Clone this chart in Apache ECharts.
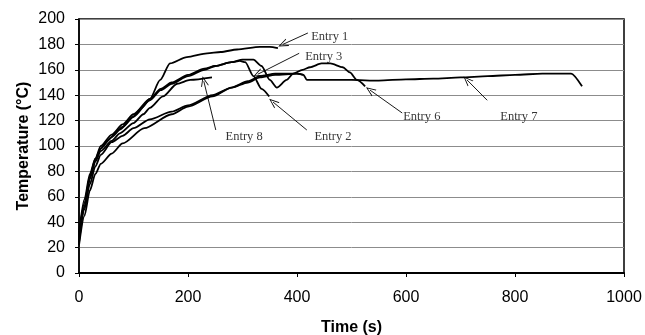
<!DOCTYPE html>
<html><head><meta charset="utf-8">
<script src="https://cdn.jsdelivr.net/npm/echarts@6/dist/echarts.min.js"></script>
<style>html,body{margin:0;padding:0;background:#fff}#c{width:645px;height:335px}</style>
</head><body><div id="c"></div>
<script>
// Time (s), Temperature (°C)
const entry1 = [[0,32],[10,58],[20,78],[30,90],[40,98],[51,104],[75,113],[99,123],[115,130],[130,137],[149,152],[167,165],[198,170],[235,173],[260,174],[290,176],[332,178],[350,178],[365,177]];
const entry2 = [[0,24],[10,50],[20,74],[30,88],[40,98],[60,107],[80,115],[100,123],[130,136],[150,144],[170,149],[200,155],[230,160],[250,163],[280,166],[295,167],[305,166],[320,155],[335,145],[349,139]];
const entry3 = [[0,28],[10,52],[20,70],[30,84],[40,93],[60,103],[80,108],[100,114],[130,121],[170,127],[200,132],[245,140],[280,146],[310,151],[332,155],[360,157],[400,157],[412,156]];
const entry6 = [[0,26],[10,52],[20,76],[30,90],[40,100],[60,109],[80,117],[100,125],[130,137],[150,145],[170,150],[200,156],[230,161],[250,163],[280,166],[300,168],[320,168],[335,163],[350,152],[363,146],[381,152],[393,157],[410,160],[424,162],[445,165],[461,165],[484,162],[497,158],[510,152],[525,147]];
const entry7 = [[0,22],[10,45],[20,65],[30,78],[40,86],[60,94],[80,102],[120,114],[170,125],[200,131],[245,139],[280,146],[310,150],[332,154],[360,156],[400,157],[412,156],[418,152],[500,152],[550,151.5],[600,152.5],[650,153],[700,154],[750,155],[800,156],[850,157],[880,157],[903,157],[923,147]];
const entry8 = [[0,30],[10,55],[20,76],[30,88],[40,96],[60,104],[75,110],[100,118],[118,125],[130,130],[154,139],[180,149],[204,152],[244,154]];

const xTicks = [0,200,400,600,800,1000];
const yTicks = [0,20,40,60,80,100,120,140,160,180,200];

const labelNames = ['Entry 1','Entry 3','Entry 8','Entry 2','Entry 6','Entry 7'];
const labelPos   = [[460,186],[449,170],[303,107],[466,107],[629,123],[807,123]];
const arrowStart = [[420,189],[404,173],[251,112.6],[418,112.6],[593,126],[749,136]];
const arrowTip   = [[374,180],[328,156.5],[229,151],[356,134.6],[534,144],[712,152]];

const series = [];
const curves = [['Entry 1',entry1],['Entry 2',entry2],['Entry 3',entry3],['Entry 6',entry6],['Entry 7',entry7],['Entry 8',entry8]];
curves.forEach(([n,d])=>{
  series.push({name:n,type:'line',data:d,showSymbol:false,smooth:0.25,smoothMonotone:'x',
    lineStyle:{color:'#000',width:1.8},silent:true});
});
series.push({
  name:'labels',type:'scatter',symbolSize:0,silent:true,
  data:labelNames.map((n,i)=>({value:labelPos[i],name:n})),
  label:{show:true,position:'inside',formatter:p=>p.name,color:'#000',
    fontFamily:'Liberation Serif',fontSize:12.5},
  markLine:{silent:true,animation:false,
    symbol:['none','path://M5,0 L10,12 L8.8,12 L5,2.6 L1.2,12 L0,12 Z'],symbolSize:[8,10],
    lineStyle:{color:'#000',width:0.9,type:'solid'},label:{show:false},
    data:arrowStart.map((s,i)=>[{coord:s},{coord:arrowTip[i]}])}
});

const chart = echarts.init(document.getElementById('c'),null,{renderer:'canvas'});
chart.setOption({
  animation:false,
  backgroundColor:'#fff',
  grid:{left:79,right:21,top:19,bottom:62,containLabel:false,outerBoundsMode:'none',
    show:true,borderColor:'#000',borderWidth:1.5,backgroundColor:'transparent'},
  xAxis:{type:'value',min:0,max:1000,interval:200,
    name:'Time (s)',nameLocation:'middle',nameGap:47,
    nameTextStyle:{fontFamily:'Liberation Sans',fontWeight:'bold',fontSize:16,color:'#000'},
    axisLine:{show:true,lineStyle:{color:'#000',width:2}},
    axisTick:{show:true,length:4,lineStyle:{color:'#000'}},
    axisLabel:{margin:17,fontFamily:'Liberation Sans',fontSize:16,color:'#000',
      formatter:v=>xTicks.includes(v)?String(v):''},
    splitLine:{show:false}},
  yAxis:{type:'value',min:0,max:200,interval:20,
    name:'Temperature (°C)',nameLocation:'middle',nameGap:47,nameRotate:90,nameMoveOverlap:false,
    nameTextStyle:{fontFamily:'Liberation Sans',fontWeight:'bold',fontSize:16,color:'#000'},
    axisLine:{show:true,lineStyle:{color:'#000',width:1.5}},
    axisTick:{show:true,length:4,lineStyle:{color:'#000'}},
    axisLabel:{margin:14,fontFamily:'Liberation Sans',fontSize:16,color:'#000',
      formatter:v=>yTicks.includes(v)?String(v):''},
    splitLine:{show:true,lineStyle:{color:'#8c8c8c',width:1}}},
  series:series
});
</script></body></html>
